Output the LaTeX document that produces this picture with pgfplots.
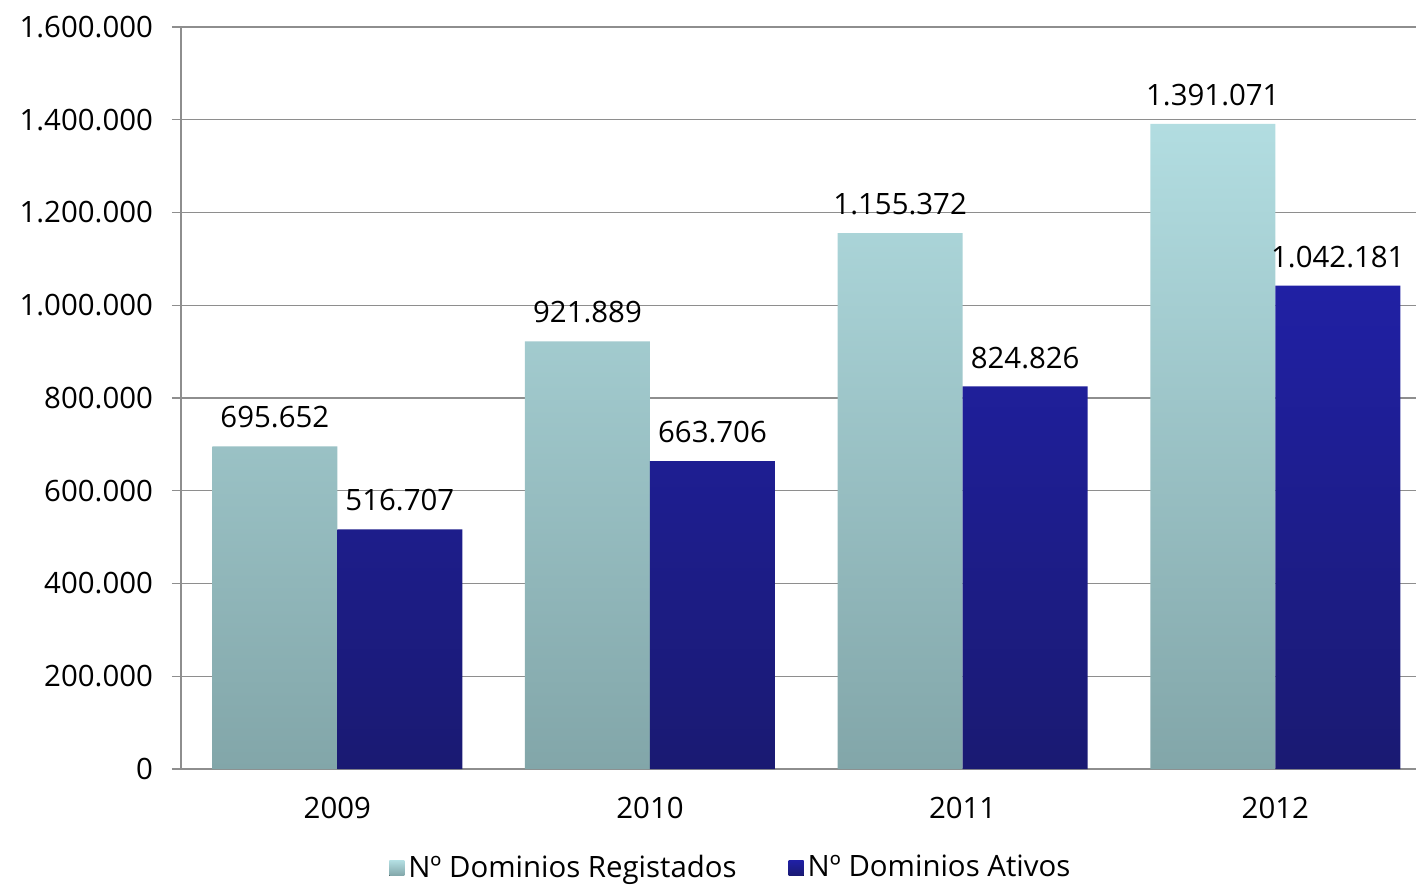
\documentclass[border=0pt]{standalone}
\usepackage{pgfplots}
\pgfplotsset{compat=1.18}
\usepackage{fontspec}
\setmainfont{Open Sans}
\definecolor{lighttop}{HTML}{B2DDE1}
\definecolor{lightmid}{HTML}{A6D0D4}
\definecolor{lightbot}{HTML}{82A6A9}
\definecolor{darktop}{HTML}{2020A4}
\definecolor{darkmid}{HTML}{1E1E90}
\definecolor{darkbot}{HTML}{1A1A72}
\definecolor{gridgray}{HTML}{8E8E8E}
\begin{document}
\begin{tikzpicture}
\path[use as bounding box] (-90.5pt,-58pt) rectangle (617.5pt,384.5pt);
\begin{axis}[
  at={(0,0)}, anchor=south west,
  scale only axis,
  width=617.5pt, height=371pt,
  xmin=-0.5, xmax=3.45,
  ymin=0, ymax=1600000,
  ytick={0,200000,...,1600000},
  ymajorgrids,
  grid style={gridgray, line width=0.6pt},
  axis x line=bottom, axis y line=left,
  axis line style={gridgray, line width=0.6pt, -},
  tick style={gridgray, line width=0.6pt},
  tick align=outside,
  major tick length=4.5pt,
  xtick={0,1,2,3},
  xticklabels={2009,2010,2011,2012},
  x tick style={draw=none},
  extra x ticks={-0.5,0.5,1.5,2.5},
  extra x tick labels={},
  extra x tick style={tick style={gridgray, line width=0.6pt}, major tick length=4.5pt, grid=none},
  font=\fontsize{14.7pt}{17pt}\selectfont,
  ticklabel style={font=\fontsize{14.7pt}{17pt}\selectfont},
  yticklabel style={xshift=-6pt},
  xticklabel style={yshift=-6pt},
  /pgf/number format/.cd, fixed, 1000 sep={.}, assume math mode=true,
  /pgfplots/.cd,
  scaled y ticks=false,
  ybar=0pt,
  bar width=62.5pt,
  nodes near coords,
  nodes near coords style={font=\fontsize{14.7pt}{17pt}\selectfont, text=black, yshift=5.5pt,
    /pgf/number format/.cd, fixed, 1000 sep={.}, assume math mode=true},
  legend style={at={(0.446,-0.133)}, anchor=center, draw=none, legend columns=2,
    font=\fontsize{14.7pt}{17pt}\selectfont,
    /tikz/every even column/.append style={column sep=24pt}},
  legend image code/.code={\fill[#1] (0pt,-4pt) rectangle (7.5pt,3.5pt);},
  clip=false,
]
\addplot[draw=none, top color=lighttop, middle color=lightmid, bottom color=lightbot]
  coordinates {(0,695652) (1,921889) (2,1155372) (3,1391071)};
\addplot[draw=none, top color=darktop, middle color=darkmid, bottom color=darkbot]
  coordinates {(0,516707) (1,663706) (2,824826) (3,1042181)};
\legend{Nº Dominios Registados, Nº Dominios Ativos}
\end{axis}
\end{tikzpicture}
\end{document}
